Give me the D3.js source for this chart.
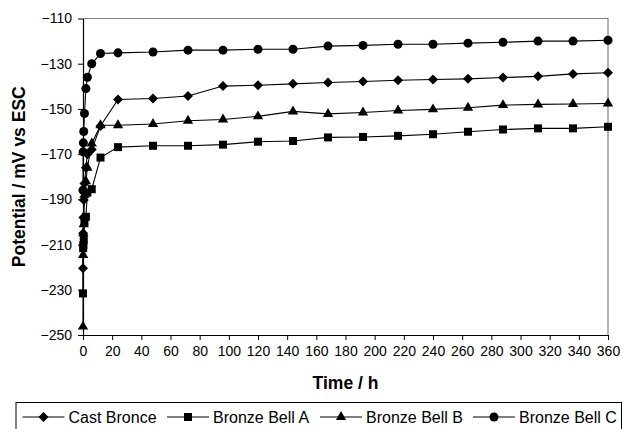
<!DOCTYPE html>
<html>
<head>
<meta charset="utf-8">
<script src="https://cdn.jsdelivr.net/npm/d3@7"></script>
<style>
  html, body { margin: 0; padding: 0; background: #fff; }
  svg { display: block; font-family: "Liberation Sans", Arial, sans-serif; }
</style>
</head>
<body>
<svg id="chart" width="623" height="429"></svg>
<script>
// Immersion time (h) of each potential reading
const times = [0, 0.1, 0.25, 0.5, 1, 2, 3, 6, 12, 24, 48, 72, 96, 120, 144, 168, 192, 216, 240, 264, 288, 312, 336, 360];

// Open-circuit potential (mV vs ESC) per alloy
const castBronce  = [-220.5, -205, -198, -190.3, -183, -176, -170, -168, -157.5, -145.8, -145.4, -144.3, -139.9, -139.5, -138.9, -138.3, -137.9, -137.3, -137.0, -136.7, -136.1, -135.6, -134.5, -134.0];
const bronzeBellA = [-231.6, -211.6, -210.3, -208, -200, -197.7, -187, -185.5, -171.5, -166.9, -166.3, -166.3, -165.8, -164.5, -164.2, -162.6, -162.4, -161.9, -161.2, -160.1, -159.1, -158.6, -158.6, -157.9];
const bronzeBellB = [-246.3, -214.6, -205, -201, -188, -182, -176, -165.3, -157.2, -157.2, -156.7, -155.2, -154.7, -153.3, -151.1, -152.2, -151.6, -150.7, -150.2, -149.5, -148.3, -148.0, -147.8, -147.6];
const bronzeBellC = [-186, -169, -165, -160, -152, -141, -136, -130, -125.5, -125.2, -124.8, -124.0, -124.0, -123.6, -123.6, -122.2, -121.9, -121.4, -121.4, -120.9, -120.5, -120.0, -120.0, -119.6];

const seriesNames = ["Cast Bronce", "Bronze Bell A", "Bronze Bell B", "Bronze Bell C"];
const seriesValues = [castBronce, bronzeBellA, bronzeBellB, bronzeBellC];

const xTicks = d3.range(0, 361, 20);
const yTicks = d3.range(-250, -109, 20);

// Diamond drawn as a square turned on its corner
const symbolRhomb = {
  draw(ctx, size) {
    const r = Math.sqrt(size / 2);
    ctx.moveTo(0, -r); ctx.lineTo(r, 0); ctx.lineTo(0, r); ctx.lineTo(-r, 0); ctx.closePath();
  }
};
const seriesSymbols = [symbolRhomb, d3.symbolSquare, d3.symbolTriangle, d3.symbolCircle];
const symbolSizes = [50, 64, 46, 64];

const svg = d3.select("#chart");
const plot = { left: 83, right: 608, top: 18.5, bottom: 335 };

const x = d3.scaleLinear().domain([0, 360]).range([plot.left, plot.right]);
const y = d3.scaleLinear().domain([-250, -110]).range([plot.bottom, plot.top]);

// Frame: grey top and right edges
svg.append("path")
  .attr("d", `M${plot.left},${plot.top}H${plot.right}V${plot.bottom}`)
  .attr("fill", "none").attr("stroke", "#808080").attr("stroke-width", 1.2);

const xAxis = svg.append("g")
  .attr("transform", `translate(0,${plot.bottom})`)
  .call(d3.axisBottom(x).tickValues(xTicks).tickSize(5).tickPadding(6).tickSizeOuter(0));
const yAxis = svg.append("g")
  .attr("transform", `translate(${plot.left},0)`)
  .call(d3.axisLeft(y).tickValues(yTicks).tickSize(5).tickPadding(6).tickSizeOuter(0));

[xAxis, yAxis].forEach(g => {
  g.select(".domain").attr("stroke", "#000").attr("stroke-width", 1.2);
  g.selectAll(".tick line").attr("stroke", "#000");
  g.selectAll(".tick text")
    .attr("font-family", "'Liberation Sans', Arial, sans-serif")
    .attr("font-size", 14).attr("fill", "#000");
});

// Axis titles
svg.append("text")
  .attr("x", (plot.left + plot.right) / 2).attr("y", 389)
  .attr("text-anchor", "middle")
  .attr("font-size", 17.5).attr("font-weight", "bold")
  .text("Time / h");

svg.append("text")
  .attr("transform", `translate(24.5,${(plot.top + plot.bottom) / 2}) rotate(-90)`)
  .attr("text-anchor", "middle")
  .attr("font-size", 17.5).attr("font-weight", "bold")
  .text("Potential / mV vs ESC");

// Series lines and markers
const line = d3.line().x((d, i) => x(times[i])).y(d => y(d));

seriesValues.forEach((vals, s) => {
  const g = svg.append("g");
  g.append("path")
    .datum(vals)
    .attr("d", line)
    .attr("fill", "none").attr("stroke", "#000").attr("stroke-width", 1.1);
  g.selectAll("path.mark")
    .data(vals)
    .join("path")
    .attr("class", "mark")
    .attr("transform", (d, i) => `translate(${x(times[i])},${y(d)})`)
    .attr("d", d3.symbol().type(seriesSymbols[s]).size(symbolSizes[s]))
    .attr("fill", "#000");
});

// Legend
const legend = svg.append("g");
legend.append("rect")
  .attr("x", 16).attr("y", 402.5).attr("width", 605.5).attr("height", 40)
  .attr("fill", "#fff").attr("stroke", "#000").attr("stroke-width", 1);

const legendX = [22.5, 167, 320, 473];
seriesNames.forEach((name, s) => {
  const g = legend.append("g").attr("transform", `translate(${legendX[s]},417)`);
  g.append("line").attr("x1", 0).attr("x2", 42).attr("y1", 0).attr("y2", 0)
    .attr("stroke", "#000").attr("stroke-width", 1.1);
  g.append("path").attr("transform", "translate(21,0)")
    .attr("d", d3.symbol().type(seriesSymbols[s]).size(symbolSizes[s]))
    .attr("fill", "#000");
  g.append("text").attr("x", 46).attr("y", 5.6)
    .attr("font-size", 16).attr("fill", "#000")
    .text(name);
});
</script>
</body>
</html>
